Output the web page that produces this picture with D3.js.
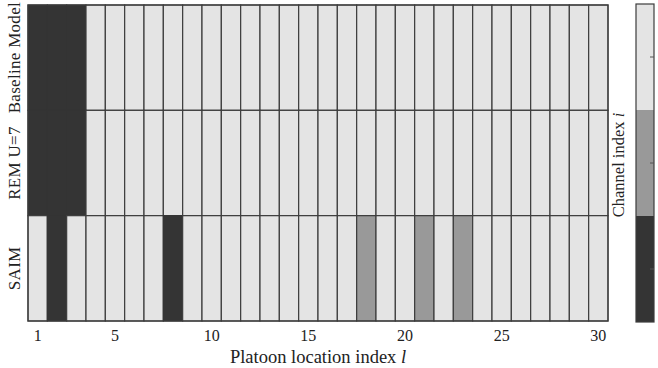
<!DOCTYPE html>
<html>
<head>
<meta charset="utf-8">
<script src="https://cdn.jsdelivr.net/npm/d3@7"></script>
<style>
  html, body { margin: 0; padding: 0; background: #fff; }
  svg { display: block; font-family: "Liberation Serif", "DejaVu Serif", serif; }
</style>
</head>
<body>
<svg id="chart" width="658" height="368"></svg>
<script>
// Channel index assigned to each platoon location, one row per scheme
const schemes = ["Baseline Model", "REM U=7", "SAIM"];
const locations = d3.range(1, 31);
const baselineChannels = [1,1,1,3,3,3,3,3,3,3,3,3,3,3,3,3,3,3,3,3,3,3,3,3,3,3,3,3,3,3];
const remChannels      = [1,1,1,3,3,3,3,3,3,3,3,3,3,3,3,3,3,3,3,3,3,3,3,3,3,3,3,3,3,3];
const saimChannels     = [3,1,3,3,3,3,3,1,3,3,3,3,3,3,3,3,3,2,3,3,2,3,2,3,3,3,3,3,3,3];
const xTicks = [1, 5, 10, 15, 20, 25, 30];
const channelLevels = [1, 2, 3];
const channelColors = ["#343434", "#999999", "#e4e4e4"];

const rows = [baselineChannels, remChannels, saimChannels];
const cells = [];
rows.forEach((vals, r) => vals.forEach((v, c) => cells.push({ scheme: schemes[r], loc: locations[c], v })));

const svg = d3.select("#chart");
const mLeft = 28, mRight = 608, mTop = 5, mBottom = 321;

const x = d3.scaleBand().domain(locations).range([mLeft, mRight]).padding(0);
const y = d3.scaleBand().domain(schemes).range([mTop, mBottom]).padding(0);
const color = d3.scaleOrdinal().domain(channelLevels).range(channelColors);

// Heatmap cells
svg.append("g")
  .selectAll("rect")
  .data(cells)
  .join("rect")
  .attr("x", d => x(d.loc))
  .attr("y", d => y(d.scheme))
  .attr("width", x.bandwidth())
  .attr("height", y.bandwidth())
  .attr("fill", d => color(d.v))
  .attr("stroke", d => d.v === 1 ? "#343434" : "#3c3c3c")
  .attr("stroke-width", 1.2);

// Outer frame
svg.append("rect")
  .attr("x", mLeft).attr("y", mTop)
  .attr("width", mRight - mLeft).attr("height", mBottom - mTop)
  .attr("fill", "none").attr("stroke", "#3c3c3c").attr("stroke-width", 1.2);

// X axis tick labels
const xAxis = d3.axisBottom(x).tickValues(xTicks).tickSize(0).tickPadding(9);
const gx = svg.append("g").attr("transform", `translate(0,${mBottom})`).call(xAxis);
gx.select(".domain").remove();
gx.selectAll("text")
  .attr("font-family", "Liberation Serif, DejaVu Serif, serif")
  .attr("font-size", 16)
  .attr("fill", "#222");

// Row labels, rotated and centred on each row
svg.append("g")
  .selectAll("text")
  .data(schemes)
  .join("text")
  .attr("transform", d => `translate(20,${y(d) + y.bandwidth() / 2}) rotate(-90)`)
  .attr("text-anchor", "middle")
  .attr("font-size", 17)
  .attr("letter-spacing", 0.3)
  .attr("fill", "#222")
  .text(d => d);

// X axis title
const xt = svg.append("text")
  .attr("x", (mLeft + mRight) / 2).attr("y", 363)
  .attr("text-anchor", "middle")
  .attr("font-size", 18.5)
  .attr("fill", "#222");
xt.append("tspan").text("Platoon location index ");
xt.append("tspan").attr("font-style", "italic").text("l");

// Colorbar
const cbLeft = 636, cbWidth = 18;
const cy = d3.scaleBand().domain([3, 2, 1]).range([mTop - 1, mBottom + 1]).padding(0);
svg.append("g")
  .selectAll("rect")
  .data(channelLevels)
  .join("rect")
  .attr("x", cbLeft).attr("y", d => cy(d))
  .attr("width", cbWidth).attr("height", cy.bandwidth())
  .attr("fill", d => color(d));
svg.append("rect")
  .attr("x", cbLeft).attr("y", mTop - 1)
  .attr("width", cbWidth).attr("height", mBottom - mTop + 2)
  .attr("fill", "none").attr("stroke", "#3c3c3c").attr("stroke-width", 1.2);
svg.append("g")
  .selectAll("line")
  .data(channelLevels)
  .join("line")
  .attr("x1", cbLeft + cbWidth - 4).attr("x2", cbLeft + cbWidth)
  .attr("y1", d => cy(d) + cy.bandwidth() / 2)
  .attr("y2", d => cy(d) + cy.bandwidth() / 2)
  .attr("stroke", "#555").attr("stroke-width", 1);

// Colorbar title
const ct = svg.append("text")
  .attr("transform", `translate(624,${(mTop + mBottom) / 2 + 2}) rotate(-90)`)
  .attr("text-anchor", "middle")
  .attr("font-size", 16.5)
  .attr("fill", "#222");
ct.append("tspan").text("Channel index ");
ct.append("tspan").attr("font-style", "italic").text("i");
</script>
</body>
</html>
